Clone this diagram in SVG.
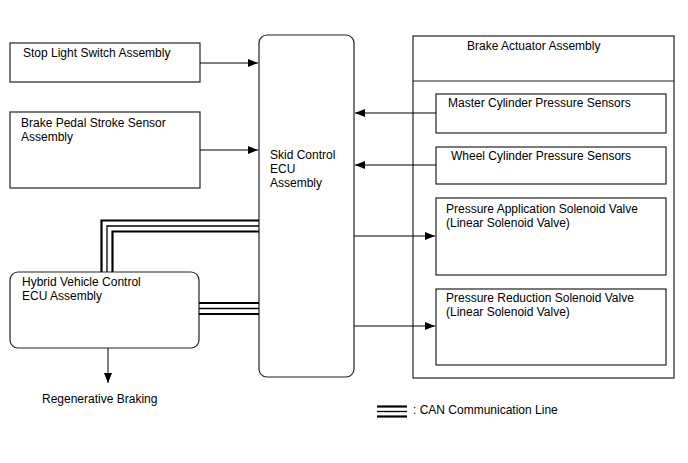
<svg xmlns="http://www.w3.org/2000/svg" width="688" height="463" viewBox="0 0 688 463">
<style>
.box{fill:#fff;stroke:#222;stroke-width:1.2}
.t{font-family:"Liberation Sans",Arial,sans-serif;font-size:12px;fill:#000}
.ln{stroke:#000;stroke-width:1;fill:none}
.can{stroke:#000;stroke-width:2.2;fill:none}
.canm{stroke:#000;stroke-width:1.3;fill:none}
</style>
<defs>
<marker id="ah" viewBox="0 0 10 8" refX="10" refY="4" markerWidth="10" markerHeight="8" markerUnits="userSpaceOnUse" orient="auto">
<path d="M0,0 L10,4 L0,8 Z" fill="#000"/>
</marker>
</defs>
<rect width="688" height="463" fill="#fff"/>
<g id="stop-light">
<rect class="box" x="10" y="43" width="190" height="39"/>
<text class="t" x="23" y="57">Stop Light Switch Assembly</text>
</g>
<g id="brake-pedal">
<rect class="box" x="10" y="112" width="190" height="76"/>
<text class="t" x="21" y="127">Brake Pedal Stroke Sensor</text>
<text class="t" x="21" y="141">Assembly</text>
</g>
<g id="skid-ecu">
<rect class="box" x="259" y="35" width="95" height="342" rx="8"/>
<text class="t" x="270" y="159">Skid Control</text>
<text class="t" x="270" y="173">ECU</text>
<text class="t" x="270" y="187">Assembly</text>
</g>
<g id="hybrid-ecu">
<rect class="box" x="10" y="272" width="189" height="76" rx="8"/>
<text class="t" x="22" y="286">Hybrid Vehicle Control</text>
<text class="t" x="22" y="300">ECU Assembly</text>
</g>
<g id="brake-actuator">
<rect class="box" x="413" y="36" width="261" height="342"/>
<line x1="413" y1="81" x2="674" y2="81" stroke="#222" stroke-width="1.2"/>
<text class="t" x="467" y="50">Brake Actuator Assembly</text>
</g>
<g id="master-cyl">
<rect class="box" x="436" y="94" width="230" height="39"/>
<text class="t" x="448" y="107">Master Cylinder Pressure Sensors</text>
</g>
<g id="wheel-cyl">
<rect class="box" x="436" y="147" width="230" height="37"/>
<text class="t" x="451" y="160">Wheel Cylinder Pressure Sensors</text>
</g>
<g id="press-app">
<rect class="box" x="436" y="198" width="230" height="77"/>
<text class="t" x="446" y="213">Pressure Application Solenoid Valve</text>
<text class="t" x="446" y="227">(Linear Solenoid Valve)</text>
</g>
<g id="press-red">
<rect class="box" x="436" y="289" width="230" height="76"/>
<text class="t" x="446" y="302">Pressure Reduction Solenoid Valve</text>
<text class="t" x="446" y="316">(Linear Solenoid Valve)</text>
</g>
<g id="regen">
<text class="t" x="42" y="403">Regenerative Braking</text>
</g>
<g id="connectors">
<line class="ln" x1="200" y1="63" x2="258" y2="63" marker-end="url(#ah)"/>
<line class="ln" x1="200" y1="150" x2="258" y2="150" marker-end="url(#ah)"/>
<line class="ln" x1="436" y1="113" x2="355" y2="113" marker-end="url(#ah)"/>
<line class="ln" x1="436" y1="165" x2="355" y2="165" marker-end="url(#ah)"/>
<line class="ln" x1="354" y1="236" x2="435" y2="236" marker-end="url(#ah)"/>
<line class="ln" x1="354" y1="326" x2="435" y2="326" marker-end="url(#ah)"/>
<line class="ln" x1="108" y1="348" x2="108" y2="383" marker-end="url(#ah)"/>
<path class="can" d="M101.5,272 V220.5 H259"/>
<path class="canm" d="M107,272 V226 H259"/>
<path class="can" d="M112.5,272 V231.5 H259"/>
<line class="can" x1="199" y1="303" x2="259" y2="303"/>
<line class="canm" x1="199" y1="308.5" x2="259" y2="308.5"/>
<line class="can" x1="199" y1="314" x2="259" y2="314"/>
</g>
<g id="legend">
<line class="can" x1="377" y1="406.5" x2="407" y2="406.5" stroke-width="2.5"/>
<line class="canm" x1="377" y1="411.5" x2="407" y2="411.5"/>
<line class="can" x1="377" y1="416.5" x2="407" y2="416.5" stroke-width="2.5"/>
<text class="t" x="413" y="414">: CAN Communication Line</text>
</g>
</svg>
